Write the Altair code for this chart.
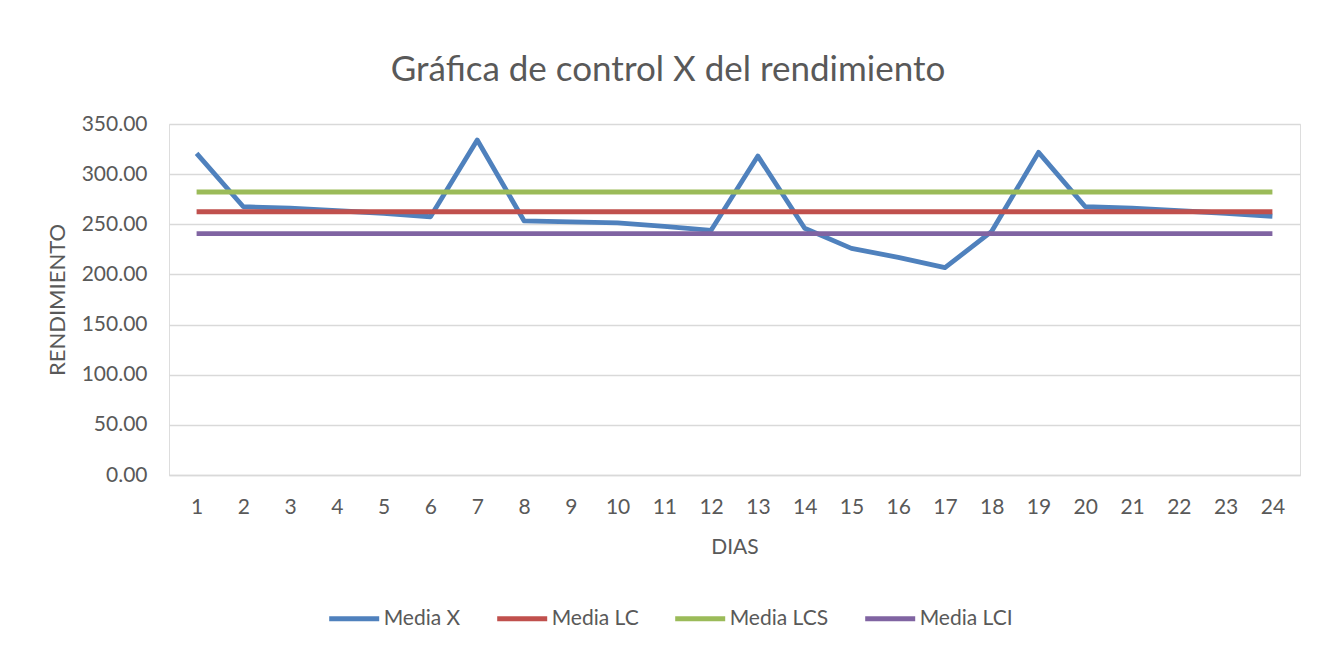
import altair as alt
import pandas as pd

# ---- data ----
days = [1, 2, 3, 4, 5, 6, 7, 8, 9, 10, 11, 12, 13, 14, 15, 16, 17, 18, 19, 20, 21, 22, 23, 24]
media_x = [320.7, 267.5, 266.0, 263.5, 261.0, 257.5, 334.0, 253.5, 252.5, 251.5, 248.0, 244.0,
           318.0, 246.0, 226.0, 217.0, 206.7, 243.0, 321.7, 267.5, 266.0, 263.5, 261.0, 258.0]
media_lc = [262.5, 262.5, 262.5, 262.5, 262.5, 262.5, 262.5, 262.5, 262.5, 262.5, 262.5, 262.5,
            262.5, 262.5, 262.5, 262.5, 262.5, 262.5, 262.5, 262.5, 262.5, 262.5, 262.5, 262.5]
media_lcs = [282.2, 282.2, 282.2, 282.2, 282.2, 282.2, 282.2, 282.2, 282.2, 282.2, 282.2, 282.2,
             282.2, 282.2, 282.2, 282.2, 282.2, 282.2, 282.2, 282.2, 282.2, 282.2, 282.2, 282.2]
media_lci = [240.6, 240.6, 240.6, 240.6, 240.6, 240.6, 240.6, 240.6, 240.6, 240.6, 240.6, 240.6,
             240.6, 240.6, 240.6, 240.6, 240.6, 240.6, 240.6, 240.6, 240.6, 240.6, 240.6, 240.6]
series_names = ["Media X", "Media LC", "Media LCS", "Media LCI"]
series_colors = ["#4F81BD", "#C0504D", "#9BBB59", "#8064A2"]
y_ticks = [0, 50, 100, 150, 200, 250, 300, 350]

rows = []
for name, vals in zip(series_names, [media_x, media_lc, media_lcs, media_lci]):
    for d, v in zip(days, vals):
        rows.append({"day": d, "value": v, "series": name})
df = pd.DataFrame(rows)

TXT = "#595959"
GRID = "#d9d9d9"
FONT = "Lato"

chart = alt.Chart(df).mark_line(
    strokeWidth=4.8, strokeCap="butt", strokeJoin="round"
).encode(
    x=alt.X(
        "day:O",
        scale=alt.Scale(type="point", padding=0.59),
        axis=alt.Axis(
            title="DIAS", labelAngle=0, labelFontSize=21, labelColor=TXT, labelPadding=21,
            ticks=False, domain=True, domainColor=GRID, domainWidth=1.3,
            titleFontSize=21, titleFontWeight="normal", titleColor=TXT, titlePadding=19,
            labelFont=FONT, titleFont=FONT,
        ),
    ),
    y=alt.Y(
        "value:Q",
        scale=alt.Scale(domain=[0, 350], nice=False),
        axis=alt.Axis(
            title="RENDIMIENTO", values=y_ticks, format=".2f", labelFontSize=21, labelColor=TXT,
            labelPadding=22, ticks=False, domain=False, grid=True, gridColor=GRID, gridWidth=1.3,
            titleFontSize=22, titleFontWeight="normal", titleColor=TXT, titleX=-112,
            titleBaseline="middle", labelFont=FONT, titleFont=FONT,
        ),
    ),
    color=alt.Color(
        "series:N",
        scale=alt.Scale(domain=series_names, range=series_colors),
        legend=alt.Legend(
            title=None, orient="none", legendX=157.7, legendY=467, direction="horizontal",
            symbolType="stroke", symbolSize=2500, symbolStrokeWidth=4.8, labelFontSize=21,
            labelColor=TXT, labelFont=FONT, labelOffset=2, columnPadding=26, padding=0,
        ),
    ),
).properties(
    width=1131,
    height=351,
    title=alt.TitleParams(
        "Gráfica de control X del rendimiento", fontSize=35, font=FONT, fontWeight="normal",
        color=TXT, anchor="middle", frame="group", dx=-66.5, offset=25,
    ),
    autosize=alt.AutoSizeParams(type="none"),
    padding={"left": 161, "top": 116, "right": 26, "bottom": 166},
).configure_view(stroke=None).configure(font=FONT)

chart.save("out.html", embed_options={"renderer": "svg", "actions": False})
